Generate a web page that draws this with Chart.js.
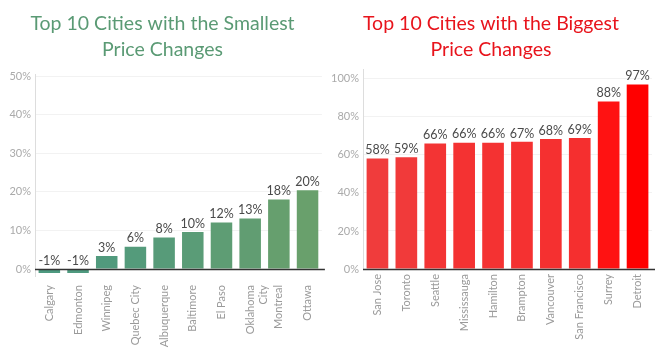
<!DOCTYPE html>
<html>
<head>
<meta charset="utf-8">
<script src="https://cdn.jsdelivr.net/npm/chart.js@4.4.1/dist/chart.umd.min.js"></script>
<style>
  html, body { margin: 0; padding: 0; background: #fff; }
  #wrap { position: relative; width: 657px; height: 350px; overflow: hidden; }
  .box { position: absolute; top: 0; height: 350px; }
  #leftBox { left: 0; width: 330px; }
  #rightBox { left: 330px; width: 327px; }
</style>
</head>
<body>
<div id="wrap">
  <div class="box" id="leftBox"><canvas id="left" width="330" height="350"></canvas></div>
  <div class="box" id="rightBox"><canvas id="right" width="327" height="350"></canvas></div>
</div>
<script>
// ---- Data ----
const smallCities = ["Calgary", "Edmonton", "Winnipeg", "Quebec City", "Albuquerque", "Baltimore", "El Paso", ["Oklahoma", "City"], "Montreal", "Ottawa"];
const smallValues = [-1.0, -1.0, 3.4, 5.8, 8.2, 9.6, 12.1, 13.1, 18.0, 20.4];
const smallColors = ["#4e9a80", "#4f9a7f", "#519a7d", "#549b7b", "#579b79", "#5a9c77", "#5e9d74", "#619d72", "#669f6e", "#69a06c"];
const smallTicks = [0, 10, 20, 30, 40, 50];

const bigCities = ["San Jose", "Toronto", "Seattle", "Mississauga", "Hamilton", "Brampton", "Vancouver", "San Francisco", "Surrey", "Detroit"];
const bigValues = [58.1, 58.7, 66.0, 66.4, 66.4, 66.9, 68.3, 68.8, 88.1, 97.0];
const bigColors = ["#f03c3c", "#f13a3a", "#f33434", "#f43232", "#f43232", "#f53131", "#f53030", "#f52f2f", "#ff1212", "#ff0000"];
const bigTicks = [0, 20, 40, 60, 80, 100];

const FONT = "Lato, 'Open Sans', 'DejaVu Sans', sans-serif";

const barLabels = {
  id: 'barLabels',
  afterDatasetsDraw(chart) {
    const ctx = chart.ctx;
    const meta = chart.getDatasetMeta(0);
    const data = chart.data.datasets[0].data;
    ctx.save();
    ctx.font = "12.5px " + FONT;
    ctx.fillStyle = "#4a4a4a";
    ctx.textAlign = "center";
    ctx.textBaseline = "bottom";
    meta.data.forEach((el, i) => {
      const top = Math.min(el.y, el.base);
      ctx.fillText(Math.round(data[i]) + "%", el.x, top - 2);
    });
    ctx.restore();
  }
};

const zeroLine = {
  id: 'zeroLine',
  afterDatasetsDraw(chart) {
    const ctx = chart.ctx;
    const y = Math.round(chart.scales.y.getPixelForValue(0)) + 0.5;
    const a = chart.chartArea;
    ctx.save();
    ctx.strokeStyle = "#333333";
    ctx.lineWidth = 1.5;
    ctx.beginPath();
    ctx.moveTo(a.left, y);
    ctx.lineTo(a.right + 3, y);
    ctx.stroke();
    ctx.restore();
  }
};

function makeChart(id, labels, values, colors, ticks, yMin, yMax, title, titleColor, titleBottom, xHeight, xPad, yWidth) {
  return new Chart(document.getElementById(id), {
    type: 'bar',
    data: {
      labels: labels,
      datasets: [{
        data: values,
        backgroundColor: colors,
        borderWidth: 0,
        barPercentage: 0.75,
        categoryPercentage: 1.0
      }]
    },
    options: {
      responsive: false,
      animation: false,
      devicePixelRatio: 1,
      layout: { padding: { left: 0, right: 5, top: 0, bottom: 0 } },
      plugins: {
        legend: { display: false },
        tooltip: { enabled: false },
        title: {
          display: true,
          text: title,
          color: titleColor,
          font: { family: FONT, size: 19.5, weight: 'normal', lineHeight: 1.34 },
          padding: { top: 11, bottom: titleBottom }
        }
      },
      scales: {
        x: {
          grid: { display: false, drawTicks: false },
          border: { display: false },
          ticks: {
            color: "#9a9a9a",
            font: { family: FONT, size: 11 },
            minRotation: 90,
            maxRotation: 90,
            padding: xPad,
            autoSkip: false
          },
          afterFit(scale) { scale.height = xHeight; }
        },
        y: {
          min: yMin,
          max: yMax,
          afterBuildTicks(scale) { scale.ticks = ticks.map(v => ({ value: v })); },
          grid: { color: "#f2f2f2", drawTicks: false },
          border: { display: true, color: "#dddddd" },
          ticks: {
            color: "#aaaaaa",
            font: { family: FONT, size: 11 },
            padding: 4,
            callback: v => v + "%"
          },
          afterFit(scale) { scale.width = yWidth; }
        }
      }
    },
    plugins: [zeroLine, barLabels]
  });
}

makeChart('left', smallCities, smallValues, smallColors, smallTicks, -1.8, 50.5,
  ["Top 10 Cities with the Smallest", "Price Changes"], "#5a9a74", 11, 74, 9, 35);
makeChart('right', bigCities, bigValues, bigColors, bigTicks, 0, 105,
  ["Top 10 Cities with the Biggest", "Price Changes"], "#e8141c", 6, 81, 5, 33);
</script>
</body>
</html>
